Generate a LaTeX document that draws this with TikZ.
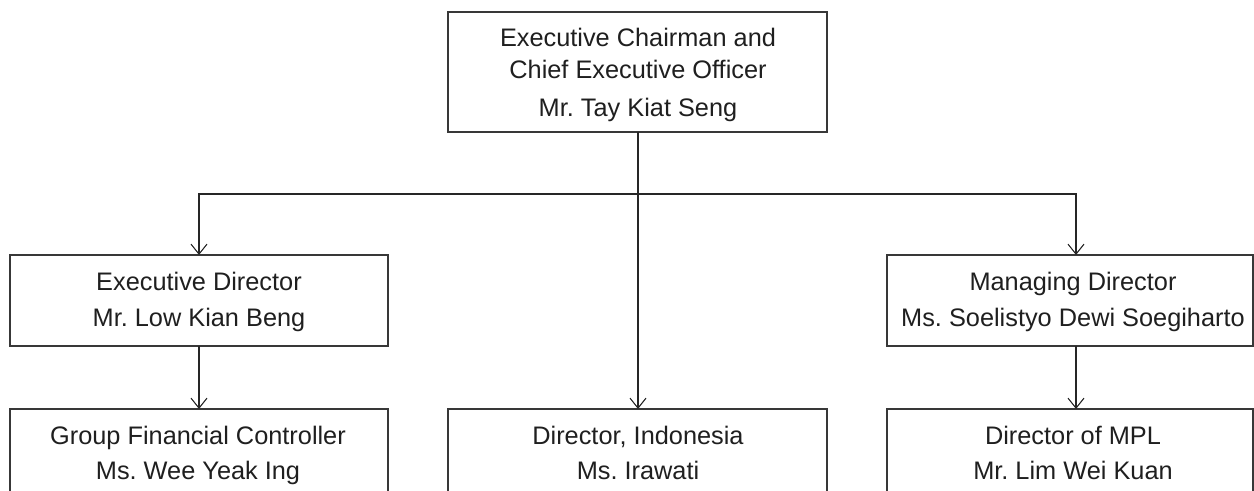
\documentclass[tikz,border=0pt]{standalone}
\usepackage{fontspec}
\setmainfont{Liberation Sans}
\usetikzlibrary{arrows.meta}
\frenchspacing
\begin{document}
\begin{tikzpicture}[x=0.75pt,y=-0.75pt,
  box/.style={draw=black!78, line width=0.9pt, rectangle, inner sep=0pt, outer sep=0pt},
  lbl/.style={anchor=base, inner sep=0pt, text=black!88,
    font=\fontsize{19}{22}\selectfont},
  link/.style={draw=black!85, line width=0.8pt},
  arr/.style={link, -{Straight Barb[length=7.5pt,width=12pt]}}
]
% canvas
\clip (0,0) rectangle (1254,491);

% boxes (sizes in px units: width*0.75pt)
\node[box, minimum width=379*0.75pt, minimum height=120*0.75pt] (ceo)  at (637.5,72) {};
\node[box, minimum width=378*0.75pt, minimum height=91*0.75pt]  (ed)   at (199,300.5) {};
\node[box, minimum width=366*0.75pt, minimum height=91*0.75pt]  (md)   at (1070,300.5) {};
\node[box, minimum width=378*0.75pt, minimum height=91*0.75pt]  (gfc)  at (199,454.5) {};
\node[box, minimum width=379*0.75pt, minimum height=91*0.75pt]  (dind) at (637.5,454.5) {};
\node[box, minimum width=366*0.75pt, minimum height=91*0.75pt]  (mpl)  at (1070,454.5) {};

% texts
\node[lbl] (ceoA) at (638,46.7)  {Executive Chairman and};
\node[lbl] (ceoB) at (638,78.3)  {Chief Executive Officer};
\node[lbl] (ceoC) at (638,116.7) {Mr. Tay Kiat Seng};

\node[lbl] (edA) at (199,291) {Executive Director};
\node[lbl] (edB) at (199,327) {Mr. Low Kian Beng};

\node[lbl] (mdA) at (1073,291) {Managing Director};
\node[lbl] (mdB) at (1073,327) {Ms. Soelistyo Dewi Soegiharto};

\node[lbl] (gfcA) at (198,444.3) {Group Financial Controller};
\node[lbl] (gfcB) at (198,480)   {Ms. Wee Yeak Ing};

\node[lbl] (dindA) at (638,444.3) {Director, Indonesia};
\node[lbl] (dindB) at (638,480)   {Ms. Irawati};

\node[lbl] (mplA) at (1073,444.3) {Director of MPL};
\node[lbl] (mplB) at (1073,480)   {Mr. Lim Wei Kuan};

% connectors
\coordinate (bus)  at (638,194);
\coordinate (rcol) at (1076,0);
\coordinate (mcol) at (638,0);

\draw[link] (ceo.south -| mcol) -- (bus);
\draw[arr] (bus) -| (ed.north);
\draw[arr] (bus) -| (md.north -| rcol);
\draw[arr] (bus) -- (dind.north -| mcol);
\draw[arr] (ed.south) -- (gfc.north);
\draw[arr] (md.south -| rcol) -- (mpl.north -| rcol);
\end{tikzpicture}
\end{document}
